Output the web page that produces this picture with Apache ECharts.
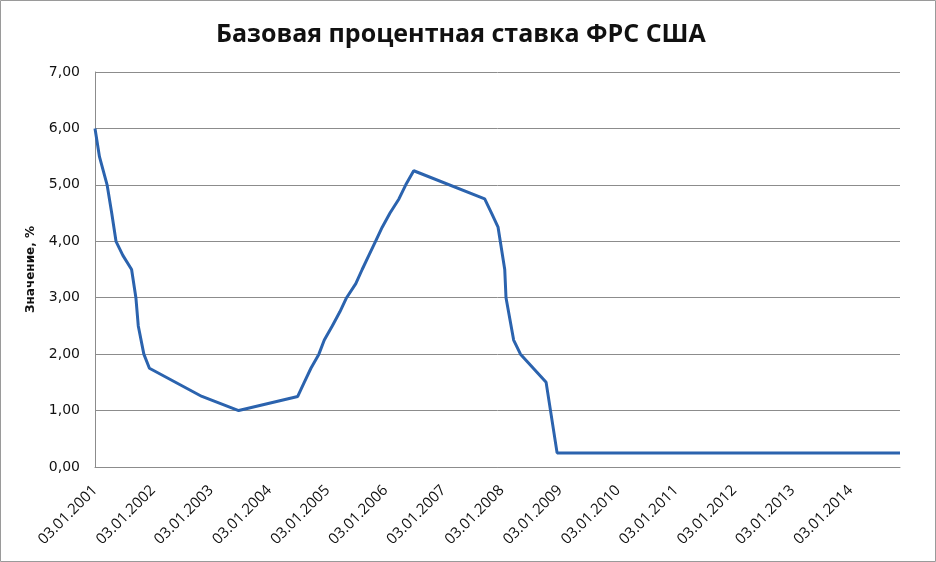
<!DOCTYPE html>
<html>
<head>
<meta charset="utf-8">
<script src="https://cdn.jsdelivr.net/npm/echarts@6/dist/echarts.min.js"></script>
<style>
html,body{margin:0;padding:0;background:#fff;}
#chart{width:936px;height:562px;}
</style>
</head>
<body>
<div id="chart"></div>
<script>
// Fed funds target rate change dates and values
var rateDates = [
  '2001-01-03','2001-01-31','2001-03-20','2001-04-18','2001-05-15','2001-06-27',
  '2001-08-21','2001-09-17','2001-10-02','2001-11-06','2001-12-11','2002-11-06',
  '2003-06-25','2004-06-30','2004-08-10','2004-09-21','2004-11-10','2004-12-14',
  '2005-02-02','2005-03-22','2005-05-03','2005-06-30','2005-08-09','2005-09-20',
  '2005-11-01','2005-12-13','2006-01-31','2006-03-28','2006-05-10','2006-06-29',
  '2007-09-18','2007-10-31','2007-12-11','2008-01-22','2008-01-30','2008-03-18',
  '2008-04-30','2008-10-08','2008-12-16','2014-11-10'
];
var rateValues = [
  6.00, 5.50, 5.00, 4.50, 4.00, 3.75,
  3.50, 3.00, 2.50, 2.00, 1.75, 1.25,
  1.00, 1.25, 1.50, 1.75, 2.00, 2.25,
  2.50, 2.75, 3.00, 3.25, 3.50, 3.75,
  4.00, 4.25, 4.50, 4.75, 5.00, 5.25,
  4.75, 4.50, 4.25, 3.50, 3.00, 2.25,
  2.00, 1.50, 0.25, 0.25
];
var tickDates = [
  '2001-01-03','2002-01-03','2003-01-03','2004-01-03','2005-01-03','2006-01-03','2007-01-03',
  '2008-01-03','2009-01-03','2010-01-03','2011-01-03','2012-01-03','2013-01-03','2014-01-03'
];
var tickLabels = [
  '03.01.2001','03.01.2002','03.01.2003','03.01.2004','03.01.2005','03.01.2006','03.01.2007',
  '03.01.2008','03.01.2009','03.01.2010','03.01.2011','03.01.2012','03.01.2013','03.01.2014'
];
var titleText = 'Базовая процентная ставка ФРС США';
var yAxisName = 'Значение, %';

var DAY = 86400000;
function ts(s){ var p = s.split('-'); return Math.round(Date.UTC(+p[0], +p[1]-1, +p[2]) / DAY); }
var tickTs = tickDates.map(ts);
var seriesData = rateDates.map(function(d,i){ return [ts(d), rateValues[i]]; });

var chart = echarts.init(document.getElementById('chart'));
chart.setOption({
  backgroundColor: '#ffffff',
  animation: false,
  title: {
    text: titleText, left: 211, top: 17,
    textStyle: { fontFamily: 'Open Sans', fontWeight: 'bold', fontSize: 25, color: '#111' }
  },
  graphic: [{
    type: 'rect', shape: { x: 0.5, y: 0.5, width: 935, height: 561 },
    style: { fill: 'none', stroke: '#9a9a9a', lineWidth: 1 }, silent: true
  }],
  grid: { left: 95, right: 36, top: 72, bottom: 95, outerBoundsMode: 'none', containLabel: false },
  xAxis: {
    type: 'value',
    min: ts(rateDates[0]),
    max: ts(rateDates[rateDates.length-1]),
    axisLine: { show: true, onZero: false, lineStyle: { color: '#8c8c8c', width: 1 } },
    axisTick: { show: false },
    splitLine: { show: false },
    axisLabel: {
      customValues: tickTs,
      rotate: 45, margin: 21, fontSize: 15, fontFamily: 'Open Sans', color: '#111',
      hideOverlap: false, showMinLabel: true, showMaxLabel: true,
      formatter: function(v){
        var best = 0, bd = Infinity;
        for (var i=0;i<tickTs.length;i++){ var d=Math.abs(tickTs[i]-v); if(d<bd){bd=d;best=i;} }
        return tickLabels[best];
      }
    }
  },
  yAxis: {
    type: 'value', min: 0, max: 7, interval: 1,
    name: yAxisName, nameLocation: 'middle', nameRotate: 90, nameGap: 58,
    nameTextStyle: { fontFamily: 'DejaVu Sans', fontWeight: 'bold', fontSize: 12, color: '#111' },
    axisLine: { show: true, lineStyle: { color: '#8c8c8c', width: 1 } },
    axisTick: { show: false },
    splitLine: { show: true, lineStyle: { color: '#8c8c8c', width: 1 } },
    axisLabel: {
      margin: 15, fontSize: 14, fontFamily: 'DejaVu Sans', color: '#111',
      formatter: function(v){ return v.toFixed(2).replace('.', ','); }
    }
  },
  series: [{
    type: 'line', data: seriesData, showSymbol: false, symbol: 'none',
    lineStyle: { color: '#2b63ae', width: 3 },
    itemStyle: { color: '#2b63ae' }
  }]
});
</script>
</body>
</html>
